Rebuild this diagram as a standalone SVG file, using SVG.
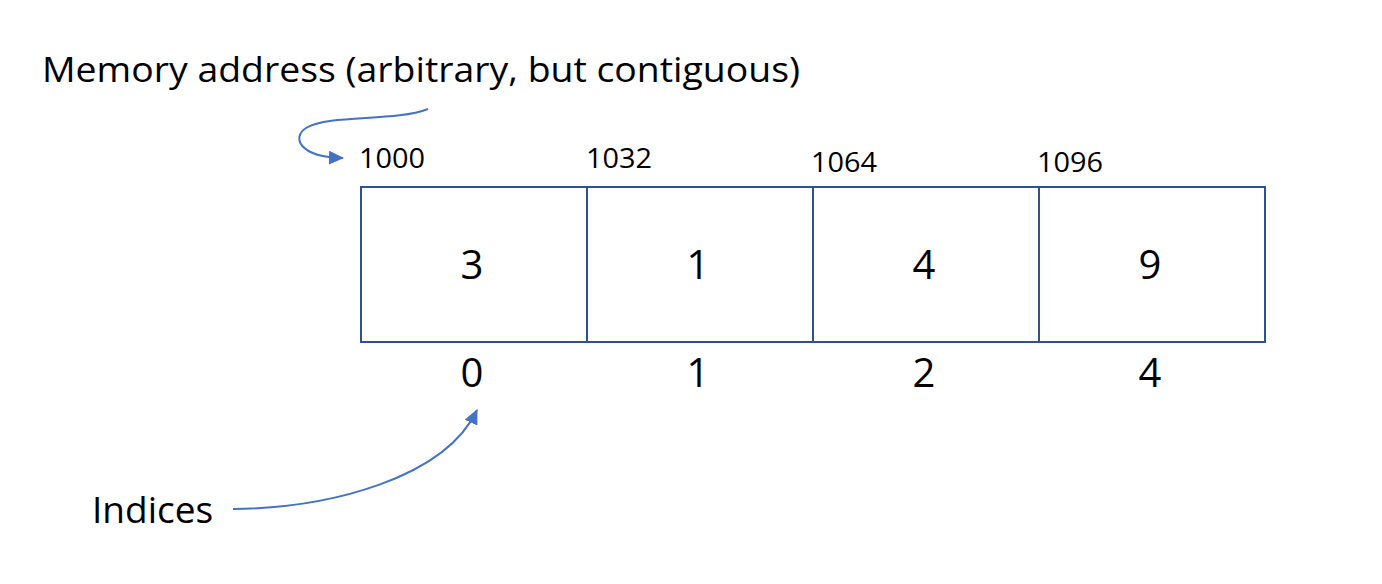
<svg xmlns="http://www.w3.org/2000/svg" width="1382" height="584" viewBox="0 0 1382 584">
<style>
text{font-family:"Open Sans","Liberation Sans",sans-serif;fill:#000}
.cell{fill:#fff;stroke:#2F528F;stroke-width:2}
.val{font-size:40px;text-anchor:middle}
.idx{font-size:40px;text-anchor:middle}
.addr{font-size:28px}
.lbl{font-size:37px}
.conn{fill:none;stroke:#4472C4;stroke-width:2;marker-end:url(#ah)}
</style>
<defs>
<marker id="ah" markerUnits="userSpaceOnUse" markerWidth="15" markerHeight="14" viewBox="0 0 15 14" refX="14" refY="7" orient="auto">
<path d="M0,0 L15,7 L0,14 Z" fill="#4472C4"/>
</marker>
</defs>
<rect width="1382" height="584" fill="#fff"/>
<g id="title"><text class="lbl" x="42" y="82" font-size="34" textLength="758" lengthAdjust="spacingAndGlyphs" style="font-size:34px">Memory address (arbitrary, but contiguous)</text></g>
<g id="indices-label"><text class="lbl" x="92" y="523">Indices</text></g>
<g id="cell0"><rect class="cell" x="361" y="187" width="226" height="155"/><text class="val" x="472" y="279">3</text><text class="addr" x="359" y="168" textLength="66" lengthAdjust="spacingAndGlyphs">1000</text><text class="idx" x="472" y="387">0</text></g>
<g id="cell1"><rect class="cell" x="587" y="187" width="226" height="155"/><text class="val" x="698" y="279">1</text><text class="addr" x="586" y="168" textLength="66" lengthAdjust="spacingAndGlyphs">1032</text><text class="idx" x="698" y="387">1</text></g>
<g id="cell2"><rect class="cell" x="813" y="187" width="226" height="155"/><text class="val" x="924" y="279">4</text><text class="addr" x="811" y="172" textLength="66" lengthAdjust="spacingAndGlyphs">1064</text><text class="idx" x="924" y="387">2</text></g>
<g id="cell3"><rect class="cell" x="1039" y="187" width="226" height="155"/><text class="val" x="1150" y="279">9</text><text class="addr" x="1037" y="172" textLength="66" lengthAdjust="spacingAndGlyphs">1096</text><text class="idx" x="1150" y="387">4</text></g>
<g id="connectors">
<path class="conn" d="M428,109 C395,122 330,114 306,128 C292,137 298,157 343,158"/>
<path class="conn" d="M233,509 C330,508 445,478 477,410"/>
</g>
</svg>
